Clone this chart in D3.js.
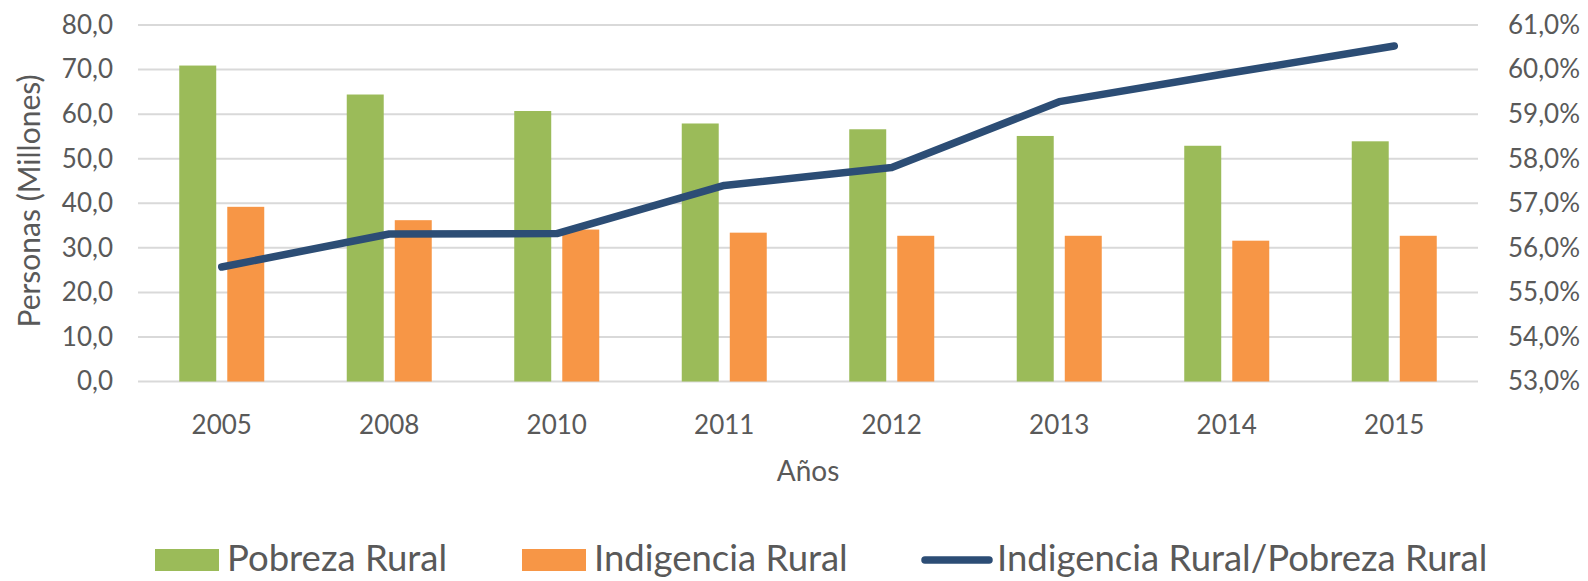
<!doctype html>
<html>
  <head>
    <meta charset="utf-8">
    <title>Pobreza e indigencia rural</title>
    <script src="https://cdnjs.cloudflare.com/ajax/libs/d3/7.8.5/d3.min.js"></script>
    <style>
      body { margin: 0; background: #fff; }
      text { font-family: Lato, "Open Sans", sans-serif; fill: #595959; }
    </style>
  </head>
  <body>
    <div id="chart"></div>
    <script>
      // data
      const years = ['2005', '2008', '2010', '2011', '2012', '2013', '2014', '2015'];
      const pobreza = [70.9, 64.4, 60.7, 57.9, 56.6, 55.1, 52.9, 53.9];
      const indigencia = [39.2, 36.2, 34.1, 33.4, 32.7, 32.7, 31.6, 32.7];
      const ratio = [55.57, 56.31, 56.32, 57.40, 57.80, 59.28, 59.91, 60.53];
      const leftTicks = [0, 10, 20, 30, 40, 50, 60, 70, 80];
      const rightTicks = [53, 54, 55, 56, 57, 58, 59, 60, 61];
      const seriesNames = ['Pobreza Rural', 'Indigencia Rural', 'Indigencia Rural/Pobreza Rural'];

      const W = 1588, H = 581;
      const plotL = 138, plotR = 1478, plotT = 25, plotB = 381.5;
      const green = '#9BBB59', orange = '#F79646', blue = '#2C4D75';

      const svg = d3.select('#chart').append('svg')
        .attr('width', W)
        .attr('height', H);

      const x = d3.scaleBand().domain(years).range([plotL, plotR]);
      const xInner = d3.scaleBand().domain([0, 1]).range([-42.5, 42.5]).paddingInner(0.23);
      const y = d3.scaleLinear().domain([0, 80]).range([plotB, plotT]);
      const y2 = d3.scaleLinear().domain([53, 61]).range([plotB, plotT]);

      const fmt = d => d3.format('.1f')(d).replace('.', ',');

      // gridlines
      svg.append('g')
        .selectAll('line')
        .data(leftTicks)
        .join('line')
        .attr('x1', plotL)
        .attr('x2', plotR)
        .attr('y1', d => y(d))
        .attr('y2', d => y(d))
        .attr('stroke', '#D9D9D9')
        .attr('stroke-width', 2);

      // left axis
      const yAxis = svg.append('g')
        .attr('transform', `translate(${plotL - 25},0)`)
        .call(d3.axisLeft(y).tickValues(leftTicks).tickFormat(fmt).tickSize(0).tickPadding(0));
      yAxis.select('.domain').remove();
      yAxis.selectAll('text').style('font-size', '26px').attr('fill', '#595959');

      // right axis
      const yAxis2 = svg.append('g')
        .attr('transform', `translate(${plotR + 30},0)`)
        .call(d3.axisRight(y2).tickValues(rightTicks).tickFormat(d => fmt(d) + '%').tickSize(0).tickPadding(0));
      yAxis2.select('.domain').remove();
      yAxis2.selectAll('text').style('font-size', '26px').attr('fill', '#595959');

      // x axis
      const xAxis = svg.append('g')
        .attr('transform', `translate(0,${plotB + 34})`)
        .call(d3.axisBottom(x).tickSize(0).tickPadding(0));
      xAxis.select('.domain').remove();
      xAxis.selectAll('text').style('font-size', '26px').attr('fill', '#595959');

      // bars
      const barData = years.flatMap((yr, i) => [
        { yr, k: 0, v: pobreza[i] },
        { yr, k: 1, v: indigencia[i] }
      ]);
      svg.append('g')
        .selectAll('rect')
        .data(barData)
        .join('rect')
        .attr('x', d => x(d.yr) + x.bandwidth() / 2 + xInner(d.k))
        .attr('width', xInner.bandwidth())
        .attr('y', d => y(d.v))
        .attr('height', d => y(0) - y(d.v))
        .attr('fill', d => d.k === 0 ? green : orange);

      // ratio line
      const line = d3.line()
        .x((d, i) => x(years[i]) + x.bandwidth() / 2)
        .y(d => y2(d));
      svg.append('path')
        .datum(ratio)
        .attr('d', line)
        .attr('fill', 'none')
        .attr('stroke', blue)
        .attr('stroke-width', 7.5)
        .attr('stroke-linecap', 'round')
        .attr('stroke-linejoin', 'round');

      // axis titles
      svg.append('text')
        .attr('transform', 'translate(40,201) rotate(-90)')
        .attr('text-anchor', 'middle')
        .style('font-size', '30px')
        .text('Personas (Millones)');

      svg.append('text')
        .attr('x', (plotL + plotR) / 2)
        .attr('y', 481)
        .attr('text-anchor', 'middle')
        .style('font-size', '28px')
        .text('Años');

      // legend
      const legend = svg.append('g');
      const lx = [155, 522, 921];
      legend.selectAll('rect')
        .data([green, orange])
        .join('rect')
        .attr('x', (d, i) => lx[i])
        .attr('y', 549)
        .attr('width', 64)
        .attr('height', 22)
        .attr('fill', d => d);
      legend.append('line')
        .attr('x1', lx[2] + 4)
        .attr('x2', lx[2] + 68)
        .attr('y1', 560)
        .attr('y2', 560)
        .attr('stroke', blue)
        .attr('stroke-width', 7.5)
        .attr('stroke-linecap', 'round');
      legend.selectAll('text')
        .data(seriesNames)
        .join('text')
        .attr('x', (d, i) => lx[i] + (i === 2 ? 76 : 72))
        .attr('y', 571)
        .style('font-size', '36.5px')
        .text(d => d);
    </script>
  </body>
</html>
